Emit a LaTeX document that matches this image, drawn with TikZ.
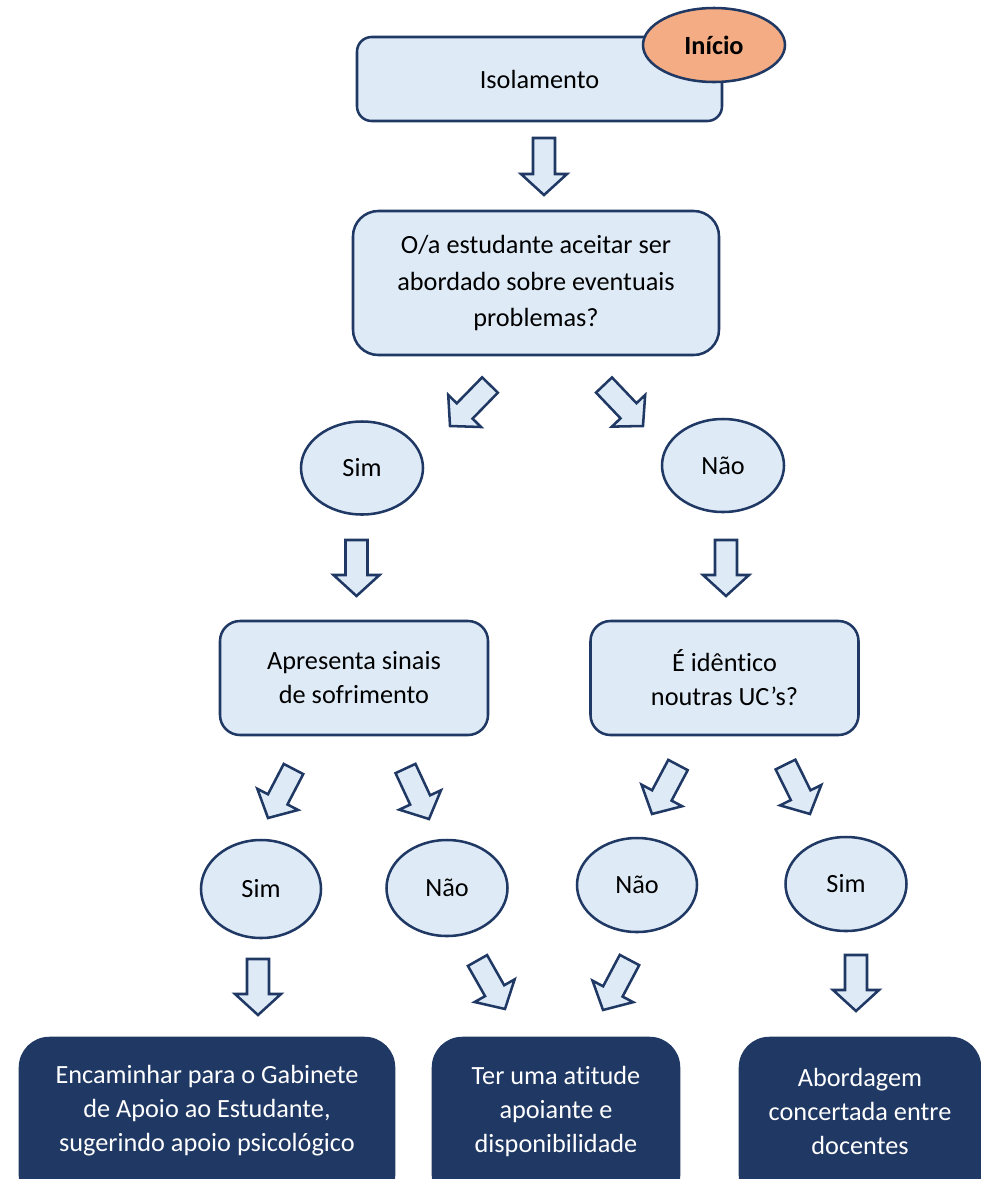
\documentclass[tikz,border=0pt]{standalone}
\usepackage{fontspec}
\setmainfont{Carlito}[Ligatures=NoCommon]
\usetikzlibrary{shapes.geometric,calc}
\definecolor{navy}{HTML}{203864}
\definecolor{lblue}{HTML}{DEEBF7}
\definecolor{salmon}{HTML}{F4AC84}
\tikzset{
  every node/.style={font=\fontsize{19.7}{26}\selectfont, inner sep=0pt, align=center},
  lbox/.style={draw=navy, fill=lblue, line width=1.9pt, rectangle},
  dbox/.style={draw=navy, fill=navy, line width=1.9pt, rectangle, rounded corners=22pt},
  oval/.style={draw=navy, fill=lblue, line width=1.9pt, ellipse},
  barrow/.style={draw=navy, fill=lblue, line width=1.9pt, line join=miter},
  wtext/.style={text=white, font=\fontsize{19.7}{25.5}\selectfont}
}
\newcommand\blockarrow[2]{%
  \path let \p1=($(#2)-(#1)$), \n1={atan2(\y1,\x1)}, \n2={veclen(\x1,\y1)} in
    \pgfextra{\pgfmathparse{\n1}\xdef\bArAng{\pgfmathresult}%
      \pgfmathparse{\n2}\xdef\bArLen{\pgfmathresult}%
      \pgfmathparse{\n2-15.75}\xdef\bArNeck{\pgfmathresult}};
  \begin{scope}[shift={(#1)}, rotate=\bArAng]
    \draw[barrow] (0pt,-8.25pt) -- (\bArNeck pt,-8.25pt) -- (\bArNeck pt,-17.25pt)
      -- (\bArLen pt,0pt) -- (\bArNeck pt,17.25pt) -- (\bArNeck pt,8.25pt) -- (0pt,8.25pt) -- cycle;
  \end{scope}}
\begin{document}
\begin{tikzpicture}[x=0.75pt,y=-0.75pt]
\useasboundingbox (0,0) rectangle (981,1179);

% top
\node[lbox, rounded corners=11pt, minimum width=273.75pt, minimum height=63pt] (iso) at (539.5,79) {Isolamento};
\node[draw=navy, fill=salmon, line width=1.9pt, ellipse, minimum width=106.5pt, minimum height=55.5pt] (ini) at (714,45) {\bfseries Início};

\node[lbox, rounded corners=19pt, minimum width=274.5pt, minimum height=108pt, font=\fontsize{19.7}{27.4}\selectfont] (q) at (536,283)
  {O/a estudante aceitar ser\\abordado sobre eventuais\\problemas?};

\node[oval, minimum width=91.5pt, minimum height=69.75pt] (sim1) at (362,468) {Sim};
\node[oval, minimum width=91.5pt, minimum height=69.75pt] (nao1) at (723,465.5) {Não};

\node[lbox, rounded corners=15pt, minimum width=201pt, minimum height=85.5pt, font=\fontsize{19.7}{25.5}\selectfont] (apr) at (354,678)
  {Apresenta sinais\\de sofrimento};
\node[lbox, rounded corners=15pt, minimum width=201pt, minimum height=85.5pt, font=\fontsize{19.7}{25.5}\selectfont] (ide) at (724.5,678)
  {É idêntico\\noutras UC’s?};

\node[oval, minimum width=90pt, minimum height=73.5pt] (sim2) at (261,889) {Sim};
\node[oval, minimum width=90.75pt, minimum height=72pt] (nao2) at (447,888) {Não};
\node[oval, minimum width=90pt, minimum height=70.5pt] (nao3) at (637,885) {Não};
\node[oval, minimum width=90.75pt, minimum height=70.5pt] (sim3) at (846,884) {Sim};

% bottom boxes
\node[dbox, minimum width=280.5pt, minimum height=125.25pt] (b1) at (207,1121.5) {};
\node[dbox, minimum width=184.5pt, minimum height=125.25pt] (b2) at (556,1121.5) {};
\node[dbox, minimum width=180pt, minimum height=125.25pt] (b3) at (860,1121.5) {};
\node[wtext] (t1) at (207,1111) {Encaminhar para o Gabinete\\de Apoio ao Estudante,\\sugerindo apoio psicológico};
\node[wtext] (t2) at (556,1111) {Ter uma atitude\\apoiante e\\disponibilidade};
\node[wtext] (t3) at (860,1111) {Abordagem\\concertada entre\\docentes};

% block arrows
\coordinate (a1s) at (544,138);   \coordinate (a1e) at (544,195);
\coordinate (a2s) at (490,385);   \coordinate (a2e) at (450,426);
\coordinate (a3s) at (604,385);   \coordinate (a3e) at (643,426);
\coordinate (a4s) at (356.5,540); \coordinate (a4e) at (356.5,596);
\coordinate (a5s) at (726,540);   \coordinate (a5e) at (726,596);
\coordinate (a6s) at (293.5,769); \coordinate (a6e) at (268,818);
\coordinate (a7s) at (405.5,768.5); \coordinate (a7e) at (429,819);
\coordinate (a8s) at (678,765);   \coordinate (a8e) at (652,814);
\coordinate (a9s) at (785.5,764.5); \coordinate (a9e) at (810,814);
\coordinate (a10s) at (258,959);  \coordinate (a10e) at (258,1015);
\coordinate (a11s) at (477.5,960.5); \coordinate (a11e) at (505,1009);
\coordinate (a12s) at (629.5,960); \coordinate (a12e) at (603,1010);
\coordinate (a13s) at (856,955);  \coordinate (a13e) at (856,1011);
\foreach \i in {1,...,13} {\blockarrow{a\i s}{a\i e}}
\end{tikzpicture}
\end{document}
